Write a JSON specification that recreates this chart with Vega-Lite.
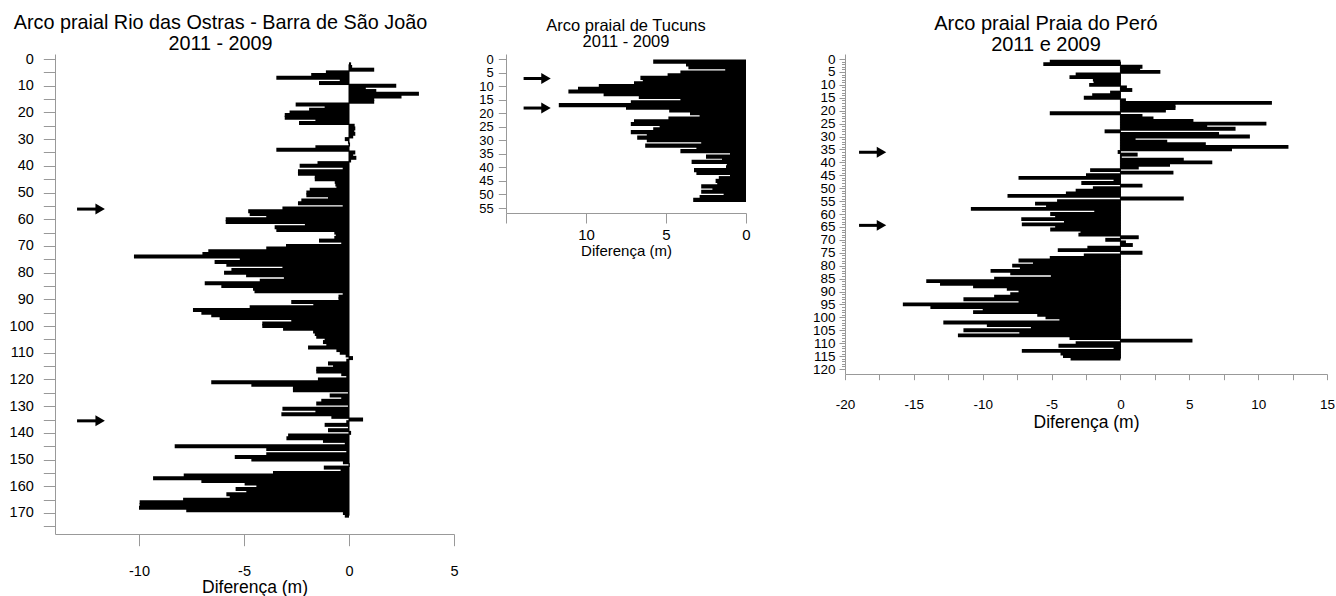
{
  "$schema": "https://vega.github.io/schema/vega-lite/v6.json",
  "padding": {"left": 9, "top": 13, "right": 0, "bottom": 0},
  "background": "white",
  "datasets": {
    "rio": [
      {"d":2,"v":0.1},{"d":3,"v":0.15},{"d":4,"v":1.2},{"d":5,"v":-1.1},{"d":6,"v":-1.8},{"d":7,"v":-3.46},{"d":8,"v":-0.44},{"d":9,"v":-1.43},{"d":10,"v":2.25},
      {"d":11,"v":0.8},{"d":12,"v":1.3},{"d":13,"v":3.33},{"d":14,"v":2.5},{"d":15,"v":1.2},{"d":16,"v":1.2},{"d":17,"v":-2.54},{"d":18,"v":-1.16},{"d":19,"v":-1.9},{"d":20,"v":-2.83},
      {"d":21,"v":-3.06},{"d":22,"v":-3.06},{"d":23,"v":-1.6},{"d":24,"v":-2.38},{"d":25,"v":0.27},{"d":26,"v":0.3},{"d":27,"v":0.25},{"d":28,"v":0.3},{"d":29,"v":0.2},{"d":30,"v":-0.2},
      {"d":31,"v":-0.05},{"d":32,"v":0.05},{"d":33,"v":-1.6},{"d":34,"v":-3.46},{"d":35,"v":0.3},{"d":36,"v":0.2},{"d":37,"v":0.35},{"d":38,"v":0.1},{"d":39,"v":-1.5},{"d":40,"v":-2.35},
      {"d":41,"v":-0.3},{"d":42,"v":-2.43},{"d":43,"v":-2.43},{"d":44,"v":-1.63},{"d":45,"v":-1.63},{"d":46,"v":-0.68},{"d":47,"v":-0.65},{"d":48,"v":-0.6},{"d":49,"v":-1.87},{"d":50,"v":-2.03},
      {"d":51,"v":-2.03},{"d":52,"v":-1.0},{"d":53,"v":-2.27},{"d":54,"v":-2.43},{"d":55,"v":-0.3},{"d":56,"v":-3.17},{"d":57,"v":-4.8},{"d":58,"v":-4.73},{"d":59,"v":-3.94},{"d":60,"v":-5.87},
      {"d":61,"v":-5.87},{"d":62,"v":-2.1},{"d":63,"v":-3.54},{"d":64,"v":-3.46},{"d":65,"v":-0.7},{"d":66,"v":-0.63},{"d":67,"v":-0.7},{"d":68,"v":-1.43},{"d":69,"v":-0.37},{"d":70,"v":-3.0},
      {"d":71,"v":-3.94},{"d":72,"v":-6.7},{"d":73,"v":-6.98},{"d":74,"v":-10.24},{"d":75,"v":-5.2},{"d":76,"v":-6.4},{"d":77,"v":-5.84},{"d":78,"v":-3.17},{"d":79,"v":-5.6},{"d":80,"v":-5.95},
      {"d":81,"v":-4.9},{"d":82,"v":-3.1},{"d":83,"v":-4.25},{"d":84,"v":-6.87},{"d":85,"v":-6.08},{"d":86,"v":-4.57},{"d":87,"v":-4.5},{"d":88,"v":-0.3},{"d":89,"v":-0.5},{"d":90,"v":-0.5},
      {"d":91,"v":-2.75},{"d":92,"v":-1.7},{"d":93,"v":-4.73},{"d":94,"v":-7.43},{"d":95,"v":-7.03},{"d":96,"v":-6.56},{"d":97,"v":-6.16},{"d":98,"v":-2.75},{"d":99,"v":-4.13},{"d":100,"v":-4.13},
      {"d":101,"v":-3.14},{"d":102,"v":-1.71},{"d":103,"v":-1.63},{"d":104,"v":-1.56},{"d":105,"v":-1.16},{"d":106,"v":-1.24},{"d":107,"v":-1.08},{"d":108,"v":-1.95},{"d":109,"v":-0.6},{"d":110,"v":-0.44},
      {"d":111,"v":-0.16},{"d":112,"v":0.19},{"d":113,"v":-0.13},{"d":114,"v":-1.0},{"d":115,"v":-0.76},{"d":116,"v":-1.56},{"d":117,"v":-1.56},{"d":118,"v":-0.37},{"d":119,"v":-0.13},{"d":120,"v":-1.48},
      {"d":121,"v":-6.56},{"d":122,"v":-4.65},{"d":123,"v":-2.67},{"d":124,"v":-2.67},{"d":125,"v":-0.05},{"d":126,"v":-0.92},{"d":127,"v":-0.37},{"d":128,"v":-1.32},{"d":129,"v":-1.56},{"d":130,"v":-0.05},
      {"d":131,"v":-3.17},{"d":132,"v":-1.6},{"d":133,"v":-3.22},{"d":134,"v":-0.84},{"d":135,"v":0.67},{"d":136,"v":-0.13},{"d":137,"v":-1.16},{"d":138,"v":-0.05},{"d":139,"v":-1.0},{"d":140,"v":0.1},
      {"d":141,"v":-2.9},{"d":142,"v":-2.98},{"d":143,"v":-1.24},{"d":144,"v":-0.2},{"d":145,"v":-8.3},{"d":146,"v":-3.94},{"d":147,"v":-0.13},{"d":148,"v":-3.94},{"d":149,"v":-5.44},{"d":150,"v":-4.65},
      {"d":151,"v":-0.29},{"d":152,"v":0.03},{"d":153,"v":-1.2},{"d":154,"v":-0.4},{"d":155,"v":-3.62},{"d":156,"v":-7.87},{"d":157,"v":-9.33},{"d":158,"v":-7.03},{"d":159,"v":-4.97},{"d":160,"v":-4.41},
      {"d":161,"v":-5.4},{"d":162,"v":-4.89},{"d":163,"v":-5.84},{"d":164,"v":-5.68},{"d":165,"v":-7.9},{"d":166,"v":-9.97},{"d":167,"v":-9.97},{"d":168,"v":-10.0},{"d":169,"v":-7.75},{"d":170,"v":-0.29},
      {"d":171,"v":-0.2}
    ],
    "tucuns": [
      {"d":1,"v":5.8},{"d":2,"v":3.75},{"d":3,"v":3.6},{"d":4,"v":1.3},{"d":5,"v":4.1},{"d":6,"v":4.9},{"d":7,"v":6.6},{"d":8,"v":6.45},{"d":9,"v":7.0},{"d":10,"v":9.2},
      {"d":11,"v":10.5},{"d":12,"v":11.1},{"d":13,"v":8.9},{"d":14,"v":6.7},{"d":15,"v":4.1},{"d":16,"v":7.2},{"d":17,"v":11.7},{"d":18,"v":7.5},{"d":19,"v":4.8},{"d":20,"v":3.5},
      {"d":21,"v":2.9},{"d":22,"v":4.85},{"d":23,"v":7.0},{"d":24,"v":7.2},{"d":25,"v":5.4},{"d":26,"v":5.8},{"d":27,"v":7.2},{"d":28,"v":6.2},{"d":29,"v":6.8},{"d":30,"v":6.2},
      {"d":31,"v":2.8},{"d":32,"v":6.3},{"d":33,"v":3.1},{"d":34,"v":4.1},{"d":35,"v":1.0},{"d":36,"v":2.5},{"d":37,"v":1.5},{"d":38,"v":3.4},{"d":39,"v":1.2},{"d":40,"v":1.25},
      {"d":41,"v":3.25},{"d":42,"v":3.1},{"d":43,"v":1.0},{"d":44,"v":1.7},{"d":45,"v":1.9},{"d":46,"v":1.8},{"d":47,"v":2.8},{"d":48,"v":2.1},{"d":49,"v":2.8},{"d":50,"v":1.4},
      {"d":51,"v":2.9},{"d":52,"v":3.3}
    ],
    "pero": [
      {"d":1,"v":-5.13},{"d":2,"v":-5.6},{"d":3,"v":1.6},{"d":4,"v":1.43},{"d":5,"v":2.9},{"d":6,"v":-3.25},{"d":7,"v":-3.7},{"d":8,"v":-2.0},{"d":9,"v":-1.95},{"d":10,"v":-2.27},
      {"d":11,"v":0.47},{"d":12,"v":0.86},{"d":13,"v":-0.75},{"d":14,"v":-2.05},{"d":15,"v":-2.66},{"d":16,"v":0.4},{"d":17,"v":11.0},{"d":18,"v":4.0},{"d":19,"v":4.0},{"d":20,"v":3.3},
      {"d":21,"v":-5.13},{"d":22,"v":1.6},{"d":23,"v":2.4},{"d":24,"v":5.3},{"d":25,"v":10.6},{"d":26,"v":6.3},{"d":27,"v":8.36},{"d":28,"v":-1.15},{"d":29,"v":7.16},{"d":30,"v":9.4},
      {"d":31,"v":1.1},{"d":32,"v":3.4},{"d":33,"v":6.2},{"d":34,"v":12.2},{"d":35,"v":8.1},{"d":36,"v":-0.2},{"d":37,"v":1.25},{"d":38,"v":0.1},{"d":39,"v":4.6},{"d":40,"v":6.67},
      {"d":41,"v":3.6},{"d":42,"v":1.33},{"d":43,"v":-2.2},{"d":44,"v":3.85},{"d":45,"v":-2.5},{"d":46,"v":-7.4},{"d":47,"v":-0.5},{"d":48,"v":-2.84},{"d":49,"v":1.6},{"d":50,"v":-2.0},
      {"d":51,"v":-3.25},{"d":52,"v":-3.96},{"d":53,"v":-8.2},{"d":54,"v":4.6},{"d":55,"v":-4.6},{"d":56,"v":-6.2},{"d":57,"v":-5.4},{"d":58,"v":-10.86},{"d":59,"v":-1.9},{"d":60,"v":-5.1},
      {"d":61,"v":-4.74},{"d":62,"v":-7.2},{"d":63,"v":-4.1},{"d":64,"v":-7.16},{"d":65,"v":-4.74},{"d":66,"v":-5.1},{"d":67,"v":-2.9},{"d":68,"v":-3.05},{"d":69,"v":1.33},{"d":70,"v":-1.1},
      {"d":71,"v":0.4},{"d":72,"v":0.9},{"d":73,"v":-2.4},{"d":74,"v":-4.55},{"d":75,"v":1.6},{"d":76,"v":-2.66},{"d":77,"v":-5.13},{"d":78,"v":-7.4},{"d":79,"v":-6.35},{"d":80,"v":-7.86},
      {"d":81,"v":-7.3},{"d":82,"v":-9.43},{"d":83,"v":-8.0},{"d":84,"v":-5.05},{"d":85,"v":-9.17},{"d":86,"v":-14.1},{"d":87,"v":-13.1},{"d":88,"v":-10.7},{"d":89,"v":-8.25},{"d":90,"v":-7.4},
      {"d":91,"v":-8.0},{"d":92,"v":-9.17},{"d":93,"v":-11.4},{"d":94,"v":-7.4},{"d":95,"v":-15.8},{"d":96,"v":-13.8},{"d":97,"v":-10.0},{"d":98,"v":-10.7},{"d":99,"v":-6.04},{"d":100,"v":-5.44},
      {"d":101,"v":-4.43},{"d":102,"v":-12.86},{"d":103,"v":-9.7},{"d":104,"v":-6.5},{"d":105,"v":-11.4},{"d":106,"v":-7.34},{"d":107,"v":-11.8},{"d":108,"v":-3.7},{"d":109,"v":5.23},{"d":110,"v":-3.25},
      {"d":111,"v":-4.5},{"d":112,"v":-0.5},{"d":113,"v":-7.16},{"d":114,"v":-4.35},{"d":115,"v":-4.17},{"d":116,"v":-3.62}
    ],
    "arrows_rio": [{"y":56.2,"tail":-12.95,"head":-11.85},{"y":135.5,"tail":-12.95,"head":-11.85}],
    "arrows_tuc": [{"y":7.2,"tail":13.9,"head":12.5},{"y":18.1,"tail":13.9,"head":12.5}],
    "arrows_pero": [{"y":36.1,"tail":-18.98,"head":-17.35},{"y":64.4,"tail":-18.98,"head":-17.35}]
  },
  "hconcat": [
    {
      "width": 399,
      "height": 480,
      "title": {"text": ["Arco praial Rio das Ostras - Barra de São João", "2011 - 2009"], "fontSize": 19.8, "lineHeight": 21, "dx": -34, "offset": -23, "baseline": "bottom", "anchor": "middle", "frame": "group"},
      "layer": [
        {
          "data": {"name": "rio"},
          "mark": {"type": "bar", "orient": "horizontal", "height": 4, "color": "black"},
          "encoding": {
            "y": {"field": "d", "type": "quantitative", "scale": {"domain": [0, 176], "reverse": true, "nice": false, "zero": false},
              "axis": {"title": null, "values": [0,5,10,15,20,25,30,35,40,45,50,55,60,65,70,75,80,85,90,95,100,105,110,115,120,125,130,135,140,145,150,155,160,165,170,175],
                "labelExpr": "datum.value % 10 === 0 ? datum.label : ''", "labelOverlap": false, "tickSize": 11.7, "labelPadding": 10, "labelFontSize": 14.5}},
            "x": {"field": "v", "type": "quantitative", "scale": {"domain": [-14, 5], "nice": false},
              "axis": {"title": "Diferença (m)", "values": [-10, -5, 0, 5], "labelExpr": "'' + datum.value", "labelOverlap": false, "tickSize": 11.7, "labelPadding": 30, "labelBaseline": "alphabetic", "labelFontSize": 14.5,
                "titleFontSize": 17.5, "titleY": 58.5, "titleBaseline": "alphabetic"}}
          }
        },
        {
          "data": {"name": "rio"},
          "mark": {"type": "rule", "color": "black", "strokeWidth": 1},
          "encoding": {
            "x": {"datum": 0, "type": "quantitative",
              "axis": {"title": "Diferença (m)", "values": [-10, -5, 0, 5], "labelExpr": "'' + datum.value", "labelOverlap": false, "tickSize": 11.7, "labelPadding": 30, "labelBaseline": "alphabetic", "labelFontSize": 14.5,
                "titleFontSize": 17.5, "titleY": 58.5, "titleBaseline": "alphabetic"}},
            "y": {"aggregate": "min", "field": "d", "type": "quantitative",
              "axis": {"title": null, "values": [0,5,10,15,20,25,30,35,40,45,50,55,60,65,70,75,80,85,90,95,100,105,110,115,120,125,130,135,140,145,150,155,160,165,170,175],
                "labelExpr": "datum.value % 10 === 0 ? datum.label : ''", "labelOverlap": false, "tickSize": 11.7, "labelPadding": 10, "labelFontSize": 14.5}},
            "y2": {"aggregate": "max", "field": "d"}
          }
        },
        {
          "data": {"name": "arrows_rio"},
          "mark": {"type": "rule", "color": "black", "strokeWidth": 3},
          "encoding": {
            "y": {"field": "y", "type": "quantitative",
              "axis": {"title": null, "values": [0,5,10,15,20,25,30,35,40,45,50,55,60,65,70,75,80,85,90,95,100,105,110,115,120,125,130,135,140,145,150,155,160,165,170,175],
                "labelExpr": "datum.value % 10 === 0 ? datum.label : ''", "labelOverlap": false, "tickSize": 11.7, "labelPadding": 10, "labelFontSize": 14.5}},
            "x": {"field": "tail", "type": "quantitative",
              "axis": {"title": "Diferença (m)", "values": [-10, -5, 0, 5], "labelExpr": "'' + datum.value", "labelOverlap": false, "tickSize": 11.7, "labelPadding": 30, "labelBaseline": "alphabetic", "labelFontSize": 14.5,
                "titleFontSize": 17.5, "titleY": 58.5, "titleBaseline": "alphabetic"}},
            "x2": {"field": "head"}
          }
        },
        {
          "data": {"name": "arrows_rio"},
          "mark": {"type": "point", "shape": "triangle-right", "filled": true, "size": 120, "color": "black", "opacity": 1},
          "encoding": {
            "y": {"field": "y", "type": "quantitative",
              "axis": {"title": null, "values": [0,5,10,15,20,25,30,35,40,45,50,55,60,65,70,75,80,85,90,95,100,105,110,115,120,125,130,135,140,145,150,155,160,165,170,175],
                "labelExpr": "datum.value % 10 === 0 ? datum.label : ''", "labelOverlap": false, "tickSize": 11.7, "labelPadding": 10, "labelFontSize": 14.5}},
            "x": {"field": "head", "type": "quantitative",
              "axis": {"title": "Diferença (m)", "values": [-10, -5, 0, 5], "labelExpr": "'' + datum.value", "labelOverlap": false, "tickSize": 11.7, "labelPadding": 30, "labelBaseline": "alphabetic", "labelFontSize": 14.5,
                "titleFontSize": 17.5, "titleY": 58.5, "titleBaseline": "alphabetic"}}
          }
        }
      ]
    },
    {
      "width": 287,
      "height": 159,
      "title": {"text": ["Arco praial de Tucuns", "2011 - 2009"], "fontSize": 16.5, "lineHeight": 16, "dx": -23.5, "offset": -13, "baseline": "bottom", "anchor": "middle", "frame": "group"},
      "layer": [
        {
          "data": {"name": "tucuns"},
          "mark": {"type": "bar", "orient": "horizontal", "height": 4.2, "color": "black"},
          "encoding": {
            "y": {"field": "d", "type": "quantitative", "scale": {"domain": [0, 55], "reverse": true, "nice": false, "zero": false},
              "axis": {"title": null, "values": [0,5,10,15,20,25,30,35,40,45,50,55], "labelOverlap": false, "tickSize": 7.7, "labelPadding": 5, "labelFontSize": 13}},
            "x": {"field": "v", "type": "quantitative", "scale": {"domain": [0, 15], "range": [240, 0], "nice": false},
              "axis": {"title": "Diferença (m)", "values": [0, 5, 10, 15], "labelExpr": "datum.value === 15 ? '' : datum.label", "labelOverlap": false, "tickSize": 10, "labelPadding": 16.4, "labelBaseline": "alphabetic", "labelFontSize": 15,
                "titleFontSize": 15, "titleY": 42.4, "titleBaseline": "alphabetic"}}
          }
        },
        {
          "data": {"name": "arrows_tuc"},
          "mark": {"type": "rule", "color": "black", "strokeWidth": 3},
          "encoding": {
            "y": {"field": "y", "type": "quantitative",
              "axis": {"title": null, "values": [0,5,10,15,20,25,30,35,40,45,50,55], "labelOverlap": false, "tickSize": 7.7, "labelPadding": 5, "labelFontSize": 13}},
            "x": {"field": "tail", "type": "quantitative",
              "axis": {"title": "Diferença (m)", "values": [0, 5, 10, 15], "labelExpr": "datum.value === 15 ? '' : datum.label", "labelOverlap": false, "tickSize": 10, "labelPadding": 16.4, "labelBaseline": "alphabetic", "labelFontSize": 15,
                "titleFontSize": 15, "titleY": 42.4, "titleBaseline": "alphabetic"}},
            "x2": {"field": "head"}
          }
        },
        {
          "data": {"name": "arrows_tuc"},
          "mark": {"type": "point", "shape": "triangle-right", "filled": true, "size": 120, "color": "black", "opacity": 1},
          "encoding": {
            "y": {"field": "y", "type": "quantitative",
              "axis": {"title": null, "values": [0,5,10,15,20,25,30,35,40,45,50,55], "labelOverlap": false, "tickSize": 7.7, "labelPadding": 5, "labelFontSize": 13}},
            "x": {"field": "head", "type": "quantitative",
              "axis": {"title": "Diferença (m)", "values": [0, 5, 10, 15], "labelExpr": "datum.value === 15 ? '' : datum.label", "labelOverlap": false, "tickSize": 10, "labelPadding": 16.4, "labelBaseline": "alphabetic", "labelFontSize": 15,
                "titleFontSize": 15, "titleY": 42.4, "titleBaseline": "alphabetic"}}
          }
        }
      ]
    },
    {
      "width": 482,
      "height": 320,
      "title": {"text": ["Arco praial Praia do Peró", "2011 e 2009"], "fontSize": 20, "lineHeight": 21, "dx": -40, "offset": -23, "baseline": "bottom", "anchor": "middle", "frame": "group"},
      "layer": [
        {
          "data": {"name": "pero"},
          "mark": {"type": "bar", "orient": "horizontal", "height": 3.9, "color": "black"},
          "encoding": {
            "y": {"field": "d", "type": "quantitative", "scale": {"domain": [0, 120], "reverse": true, "nice": false, "zero": false},
              "axis": {"title": null,
                "values": [0,1,2,3,4,5,6,7,8,9,10,11,12,13,14,15,16,17,18,19,20,21,22,23,24,25,26,27,28,29,30,31,32,33,34,35,36,37,38,39,40,41,42,43,44,45,46,47,48,49,50,51,52,53,54,55,56,57,58,59,60,61,62,63,64,65,66,67,68,69,70,71,72,73,74,75,76,77,78,79,80,81,82,83,84,85,86,87,88,89,90,91,92,93,94,95,96,97,98,99,100,101,102,103,104,105,106,107,108,109,110,111,112,113,114,115,116,117,118,119,120],
                "labelExpr": "datum.value % 5 === 0 ? datum.label : ''", "labelOverlap": false,
                "tickSize": {"condition": {"test": "datum.value % 5 === 0", "value": 6}, "value": 3.5},
                "labelPadding": 4, "labelFontSize": 13.5}},
            "x": {"field": "v", "type": "quantitative", "scale": {"domain": [-20, 15], "nice": false},
              "axis": {"title": "Diferença (m)", "values": [-20,-17.5,-15,-12.5,-10,-7.5,-5,-2.5,0,2.5,5,7.5,10,12.5,15],
                "labelExpr": "datum.value % 5 === 0 ? '' + datum.value : ''", "labelOverlap": false, "tickSize": 5.7, "labelPadding": 28.6, "labelBaseline": "alphabetic", "labelFontSize": 13.5,
                "titleFontSize": 17.5, "titleY": 53, "titleBaseline": "alphabetic"}}
          }
        },
        {
          "data": {"name": "pero"},
          "mark": {"type": "rule", "color": "black", "strokeWidth": 1},
          "encoding": {
            "x": {"datum": 0, "type": "quantitative",
              "axis": {"title": "Diferença (m)", "values": [-20,-17.5,-15,-12.5,-10,-7.5,-5,-2.5,0,2.5,5,7.5,10,12.5,15],
                "labelExpr": "datum.value % 5 === 0 ? '' + datum.value : ''", "labelOverlap": false, "tickSize": 5.7, "labelPadding": 28.6, "labelBaseline": "alphabetic", "labelFontSize": 13.5,
                "titleFontSize": 17.5, "titleY": 53, "titleBaseline": "alphabetic"}},
            "y": {"aggregate": "min", "field": "d", "type": "quantitative",
              "axis": {"title": null,
                "values": [0,1,2,3,4,5,6,7,8,9,10,11,12,13,14,15,16,17,18,19,20,21,22,23,24,25,26,27,28,29,30,31,32,33,34,35,36,37,38,39,40,41,42,43,44,45,46,47,48,49,50,51,52,53,54,55,56,57,58,59,60,61,62,63,64,65,66,67,68,69,70,71,72,73,74,75,76,77,78,79,80,81,82,83,84,85,86,87,88,89,90,91,92,93,94,95,96,97,98,99,100,101,102,103,104,105,106,107,108,109,110,111,112,113,114,115,116,117,118,119,120],
                "labelExpr": "datum.value % 5 === 0 ? datum.label : ''", "labelOverlap": false,
                "tickSize": {"condition": {"test": "datum.value % 5 === 0", "value": 6}, "value": 3.5},
                "labelPadding": 4, "labelFontSize": 13.5}},
            "y2": {"aggregate": "max", "field": "d"}
          }
        },
        {
          "data": {"name": "arrows_pero"},
          "mark": {"type": "rule", "color": "black", "strokeWidth": 3},
          "encoding": {
            "y": {"field": "y", "type": "quantitative",
              "axis": {"title": null,
                "values": [0,1,2,3,4,5,6,7,8,9,10,11,12,13,14,15,16,17,18,19,20,21,22,23,24,25,26,27,28,29,30,31,32,33,34,35,36,37,38,39,40,41,42,43,44,45,46,47,48,49,50,51,52,53,54,55,56,57,58,59,60,61,62,63,64,65,66,67,68,69,70,71,72,73,74,75,76,77,78,79,80,81,82,83,84,85,86,87,88,89,90,91,92,93,94,95,96,97,98,99,100,101,102,103,104,105,106,107,108,109,110,111,112,113,114,115,116,117,118,119,120],
                "labelExpr": "datum.value % 5 === 0 ? datum.label : ''", "labelOverlap": false,
                "tickSize": {"condition": {"test": "datum.value % 5 === 0", "value": 6}, "value": 3.5},
                "labelPadding": 4, "labelFontSize": 13.5}},
            "x": {"field": "tail", "type": "quantitative",
              "axis": {"title": "Diferença (m)", "values": [-20,-17.5,-15,-12.5,-10,-7.5,-5,-2.5,0,2.5,5,7.5,10,12.5,15],
                "labelExpr": "datum.value % 5 === 0 ? '' + datum.value : ''", "labelOverlap": false, "tickSize": 5.7, "labelPadding": 28.6, "labelBaseline": "alphabetic", "labelFontSize": 13.5,
                "titleFontSize": 17.5, "titleY": 53, "titleBaseline": "alphabetic"}},
            "x2": {"field": "head"}
          }
        },
        {
          "data": {"name": "arrows_pero"},
          "mark": {"type": "point", "shape": "triangle-right", "filled": true, "size": 120, "color": "black", "opacity": 1},
          "encoding": {
            "y": {"field": "y", "type": "quantitative",
              "axis": {"title": null,
                "values": [0,1,2,3,4,5,6,7,8,9,10,11,12,13,14,15,16,17,18,19,20,21,22,23,24,25,26,27,28,29,30,31,32,33,34,35,36,37,38,39,40,41,42,43,44,45,46,47,48,49,50,51,52,53,54,55,56,57,58,59,60,61,62,63,64,65,66,67,68,69,70,71,72,73,74,75,76,77,78,79,80,81,82,83,84,85,86,87,88,89,90,91,92,93,94,95,96,97,98,99,100,101,102,103,104,105,106,107,108,109,110,111,112,113,114,115,116,117,118,119,120],
                "labelExpr": "datum.value % 5 === 0 ? datum.label : ''", "labelOverlap": false,
                "tickSize": {"condition": {"test": "datum.value % 5 === 0", "value": 6}, "value": 3.5},
                "labelPadding": 4, "labelFontSize": 13.5}},
            "x": {"field": "head", "type": "quantitative",
              "axis": {"title": "Diferença (m)", "values": [-20,-17.5,-15,-12.5,-10,-7.5,-5,-2.5,0,2.5,5,7.5,10,12.5,15],
                "labelExpr": "datum.value % 5 === 0 ? '' + datum.value : ''", "labelOverlap": false, "tickSize": 5.7, "labelPadding": 28.6, "labelBaseline": "alphabetic", "labelFontSize": 13.5,
                "titleFontSize": 17.5, "titleY": 53, "titleBaseline": "alphabetic"}}
          }
        }
      ]
    }
  ],
  "spacing": 52,
  "bounds": "flush",
  "config": {
    "font": "Liberation Sans",
    "view": {"stroke": null},
    "axis": {"domainColor": "#999999", "tickColor": "#999999", "labelColor": "black", "titleColor": "black", "grid": false,
      "labelFont": "Liberation Sans", "titleFont": "Liberation Sans", "titleFontWeight": "normal", "labelOverlap": false, "labelFlush": false,
      "domainWidth": 1, "tickWidth": 1},
    "title": {"font": "Liberation Sans", "fontWeight": "normal", "color": "black"}
  }
}
